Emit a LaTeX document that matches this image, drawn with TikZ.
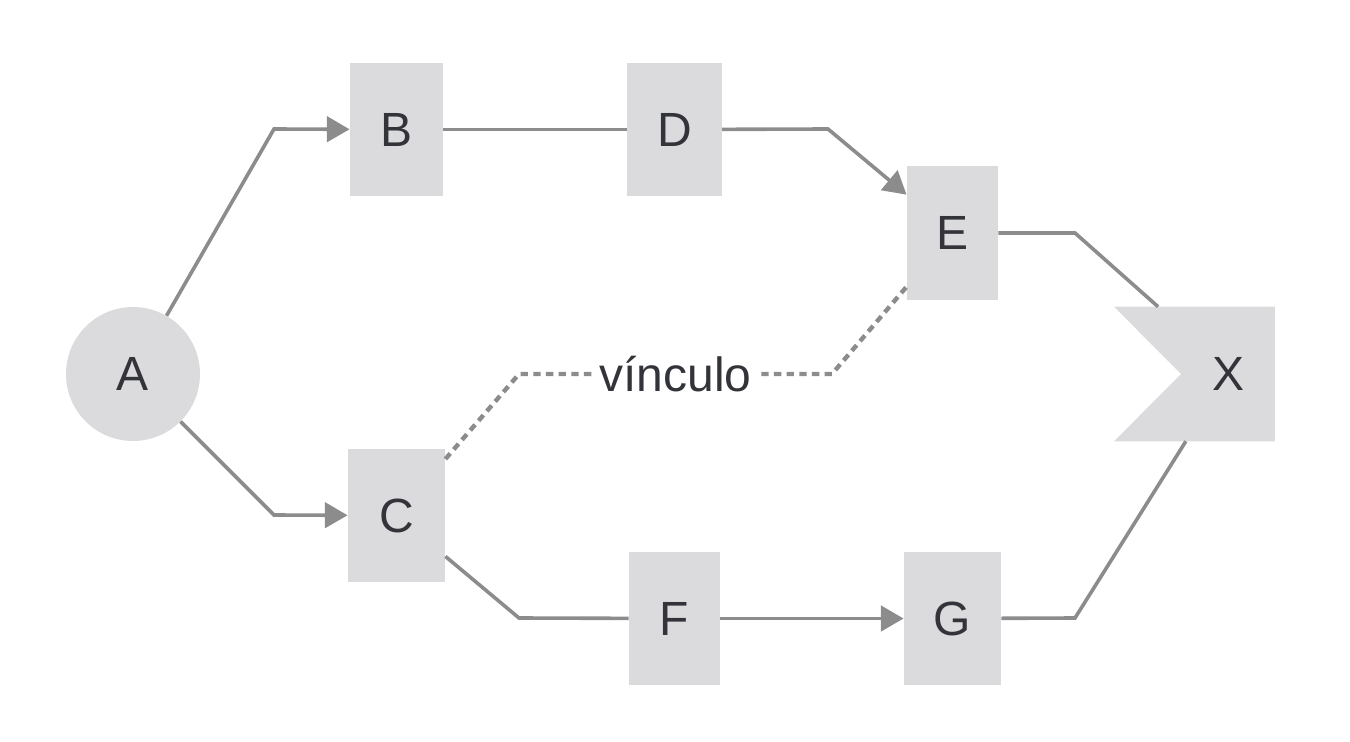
\documentclass[tikz,border=0pt]{standalone}
\usepackage{fontspec}
\setmainfont{Liberation Sans}
\usetikzlibrary{arrows.meta, backgrounds}
\definecolor{BoxGrey}{RGB}{219, 219, 221}
\definecolor{LineGrey}{RGB}{140, 140, 140}
\definecolor{InkGrey}{RGB}{50, 52, 58}

\begin{document}
\begin{tikzpicture}[
        x = 0.75pt, y = -0.75pt,
        box/.style = {
            fill = BoxGrey,
            text = InkGrey,
            minimum width = 70pt,
            minimum height = 100pt,
            inner sep = 0pt,
            font = \fontsize{36}{40}\selectfont
        },
        hub/.style = {box, circle, minimum size = 100.5pt},
        link/.style = {line width = 2.7pt, LineGrey},
        flow/.style = {
            link,
            -{Triangle[length = 17pt, width = 19pt]}
        },
        tie/.style = {
            line width = 3.3pt,
            LineGrey,
            dash pattern = on 5.5pt off 4pt
        }
    ]
    \useasboundingbox (0, 0) rectangle (1350, 742);

    \node[hub] (A) at (133, 374) {A};
    \node[box] (B) at (396.5, 129.5) {B};
    \node[box, minimum width = 71pt] (D) at (674.5, 129.5) {D};
    \node[box, minimum width = 68.5pt] (E) at (952.5, 233) {E};
    \node[box, minimum width = 73pt] (C) at (396.5, 515.5) {C};
    \node[box, minimum width = 68.5pt] (F) at (674.5, 618.5) {F};
    \node[box, minimum width = 73pt] (G) at (952.5, 618.5) {G};
    \node[box, fill = none, minimum height = 100.5pt] (X) at (1228, 374) {X};

    % notched end
    \begin{scope}[on background layer]
        \fill[BoxGrey] ([xshift = -50.25pt]X.north west) -- (X.north east)
            -- (X.south east) -- ([xshift = -50.25pt]X.south west)
            -- (X.west) -- cycle;
    \end{scope}

    \draw[flow] (A) -- (274, 129) -- (B);
    \draw[link] (B) -- (D);
    \draw[flow] (D) -- (828, 129) -- (E);
    \draw[link] (E) -- (1075, 233) -- ([xshift = -17.25pt]X.north west);
    \draw[flow] (A) -- (274, 515) -- (C);
    \draw[link] (C) -- (519, 618) -- (F);
    \draw[flow] (F) -- (G);
    \draw[link] (G) -- (1075, 618) -- (X);

    \draw[tie] (C) -- (519, 374)
        -- node[fill = white, text = InkGrey, inner xsep = 5pt, inner ysep = 2pt,
                font = \fontsize{36}{40}\selectfont] (tie) {vínculo} (832, 374)
        -- (E);
\end{tikzpicture}
\end{document}
